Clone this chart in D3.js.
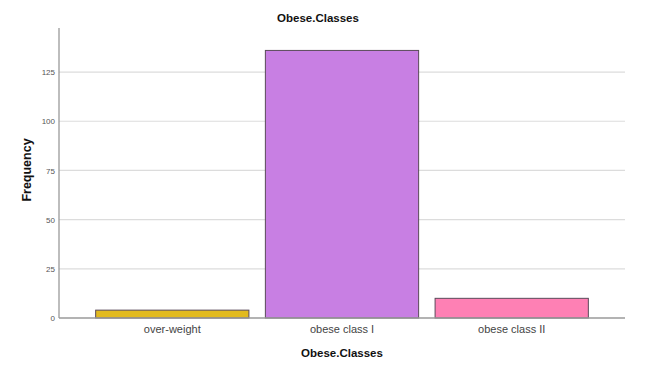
<!DOCTYPE html>
<html>
<head>
<meta charset="utf-8">
<script src="https://cdn.jsdelivr.net/npm/d3@7"></script>
<style>
  html, body { margin: 0; padding: 0; background: #fff; }
  svg { display: block; }
</style>
</head>
<body>
<svg id="chart" width="660" height="365"></svg>
<script>
const categories = ["over-weight", "obese class I", "obese class II"];
const frequencies = [4, 136, 10];
const barColors = ["#E2BA1F", "#C87FE3", "#FE80B4"];
const yTicks = [0, 25, 50, 75, 100, 125];

(function () {
const svg = d3.select("#chart");
const mLeft = 59, mRight = 625, mTop = 28, mBottom = 318;

const x = d3.scaleBand().domain(categories).range([mLeft, mRight])
  .paddingInner(0.097).paddingOuter(0.216);
const y = d3.scaleLinear().domain([0, 147.4]).range([mBottom, mTop]);

// gridlines
svg.append("g").selectAll("line").data(yTicks.filter(d => d > 0)).join("line")
  .attr("x1", mLeft).attr("x2", mRight)
  .attr("y1", d => y(d)).attr("y2", d => y(d))
  .attr("stroke", "#dcdcdc").attr("stroke-width", 1.2);

// bars
svg.append("g").selectAll("rect").data(categories).join("rect")
  .attr("x", d => x(d))
  .attr("width", x.bandwidth())
  .attr("y", (d, i) => y(frequencies[i]))
  .attr("height", (d, i) => y(0) - y(frequencies[i]))
  .attr("fill", (d, i) => barColors[i])
  .attr("stroke", "#5a4a5a").attr("stroke-width", 1);

// y axis
const yAxis = svg.append("g").attr("transform", `translate(${mLeft},0)`)
  .call(d3.axisLeft(y).tickValues(yTicks).tickSize(0).tickPadding(4));
yAxis.select(".domain").remove();
yAxis.selectAll("text").attr("font-family", "Liberation Sans, Arial, sans-serif")
  .attr("font-size", 8).attr("fill", "#555");
svg.append("line").attr("x1", mLeft).attr("x2", mLeft).attr("y1", mTop).attr("y2", mBottom)
  .attr("stroke", "#9a9a9a").attr("stroke-width", 1.3);

// x axis
const xAxis = svg.append("g").attr("transform", `translate(0,${mBottom})`)
  .call(d3.axisBottom(x).tickSize(0).tickPadding(7));
xAxis.select(".domain").remove();
xAxis.selectAll("text").attr("font-family", "Liberation Sans, Arial, sans-serif")
  .attr("font-size", 11).attr("fill", "#444");
svg.append("line").attr("x1", mLeft).attr("x2", mRight).attr("y1", mBottom).attr("y2", mBottom)
  .attr("stroke", "#9a9a9a").attr("stroke-width", 1.3);

// titles
svg.append("text").attr("x", 318).attr("y", 22).attr("text-anchor", "middle")
  .attr("font-family", "Liberation Sans, Arial, sans-serif").attr("font-weight", "bold")
  .attr("font-size", 11.5).attr("fill", "#111").text("Obese.Classes");
svg.append("text").attr("x", (mLeft + mRight) / 2).attr("y", 357).attr("text-anchor", "middle")
  .attr("font-family", "Liberation Sans, Arial, sans-serif").attr("font-weight", "bold")
  .attr("font-size", 11.5).attr("fill", "#111").text("Obese.Classes");
svg.append("text").attr("transform", "translate(31,170) rotate(-90)").attr("text-anchor", "middle")
  .attr("font-family", "Liberation Sans, Arial, sans-serif").attr("font-weight", "bold")
  .attr("font-size", 12.5).attr("fill", "#111").text("Frequency");
})();
</script>
</body>
</html>
